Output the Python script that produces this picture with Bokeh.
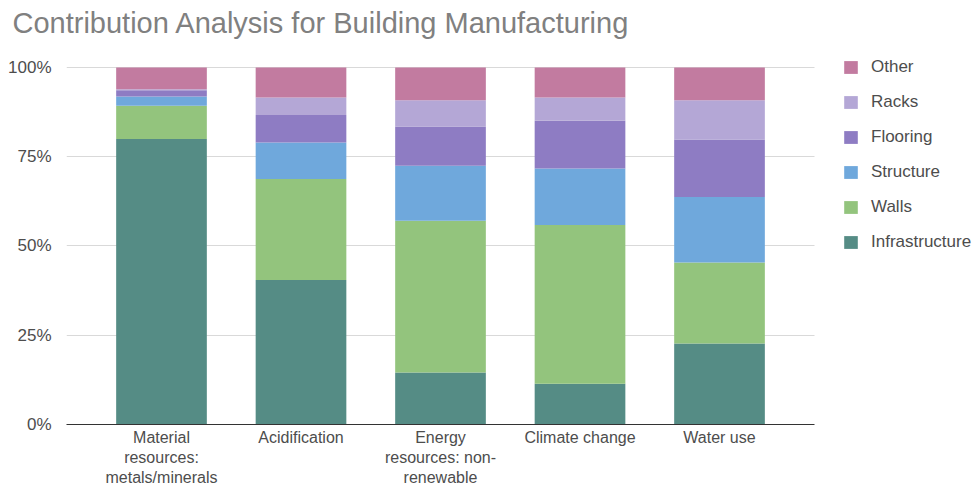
from bokeh.plotting import figure
from bokeh.models import (ColumnDataSource, Range1d, FixedTicker,
                          PrintfTickFormatter, Legend, LegendItem, Title)
from bokeh.embed import file_html
from bokeh.resources import INLINE

categories = ["Material\nresources:\nmetals/minerals", "Acidification",
              "Energy\nresources: non-\nrenewable", "Climate change", "Water use"]

series = ["Infrastructure", "Walls", "Structure", "Flooring", "Racks", "Other"]
infrastructure = [80.0, 40.5, 14.6, 11.4, 22.7]
walls = [9.3, 28.3, 42.5, 44.5, 22.7]
structure = [2.6, 10.2, 15.4, 15.8, 18.3]
flooring = [1.7, 7.7, 11.0, 13.4, 16.1]
racks = [0.3, 4.9, 7.3, 6.5, 11.0]
other = [6.1, 8.4, 9.2, 8.4, 9.2]
colors = ["#558c85", "#93c47d", "#6fa8dc", "#8e7cc3", "#b4a7d6", "#c27ba0"]
y_ticks = [0, 25, 50, 75, 100]

FONT = "Liberation Sans"

idx = list(range(len(categories)))
source = ColumnDataSource(data=dict(
    x=idx,
    Infrastructure=infrastructure, Walls=walls, Structure=structure,
    Flooring=flooring, Racks=racks, Other=other,
))

# plotted category band: -0.681 .. 4.681 ; extra room on the right holds the legend
X0, X1 = -0.681, len(categories) - 1 + 0.681
p = figure(width=975, height=492, output_backend="svg", toolbar_location=None,
           x_range=Range1d(X0, 5.835), y_range=Range1d(0, 103.36),
           min_border_left=66, min_border_right=0, min_border_top=55,
           min_border_bottom=68)

renderers = p.vbar_stack(series, x="x", width=0.65, source=source,
                         color=colors, line_color=None)

# spacer (nearest the frame), then the real title above it
spacer = Title(text=" ", text_font_size="10px", standoff=3)
p.add_layout(spacer, "above")
title = Title(text="Contribution Analysis for Building Manufacturing",
              text_font=FONT, text_font_size="29px", text_font_style="normal",
              text_color="#808080", align="left", offset=-54, standoff=2)
p.add_layout(title, "above")

p.outline_line_color = None
p.background_fill_color = "white"
p.border_fill_color = "white"

p.xgrid.grid_line_color = None
p.ygrid.grid_line_color = "#d9d9d9"
p.ygrid.grid_line_width = 1
for g in p.ygrid:
    if "cross_bounds" in g.properties():
        g.cross_bounds = (X0, X1)

p.yaxis.ticker = FixedTicker(ticks=y_ticks)
p.yaxis.formatter = PrintfTickFormatter(format="%d%%")
p.yaxis.axis_line_color = None
p.yaxis.major_tick_line_color = None
p.yaxis.minor_tick_line_color = None
p.yaxis.major_label_standoff = 9
p.yaxis.major_label_text_font = FONT
p.yaxis.major_label_text_font_size = "17px"
p.yaxis.major_label_text_color = "#4d4d4d"

p.xaxis.ticker = FixedTicker(ticks=idx)
p.xaxis.major_label_overrides = {i: c for i, c in zip(idx, categories)}
p.xaxis.bounds = (X0, X1)
p.xaxis.axis_line_color = "#333333"
p.xaxis.axis_line_width = 1
p.xaxis.major_tick_line_color = None
p.xaxis.minor_tick_line_color = None
p.xaxis.major_label_standoff = -2
p.xaxis.major_label_text_font = FONT
p.xaxis.major_label_text_font_size = "16px"
p.xaxis.major_label_text_color = "#4d4d4d"

items = [LegendItem(label=s, renderers=[r]) for s, r in zip(series, renderers)]
legend = Legend(items=list(reversed(items)), location=(776, 172),
                glyph_width=17, glyph_height=16, label_height=16, spacing=15,
                label_standoff=12, padding=0, margin=0,
                border_line_color=None, background_fill_alpha=0,
                label_text_font=FONT, label_text_font_size="17px",
                label_text_color="#4d4d4d")
p.add_layout(legend, "center")

open("out.html", "w").write(file_html(p, INLINE))
